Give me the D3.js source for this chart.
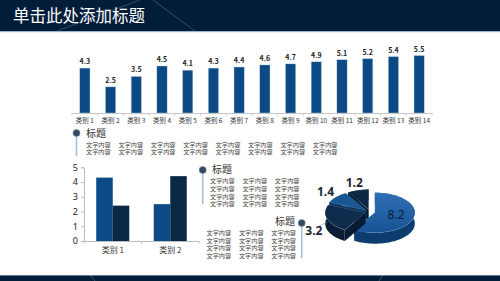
<!doctype html>
<html>
<head>
<meta charset="utf-8">
<title>单击此处添加标题</title>
<script src="https://cdnjs.cloudflare.com/ajax/libs/d3/7.8.5/d3.min.js"></script>
<style>
  body { margin: 0; background: #fff; }
  svg { display: block; font-family: "Noto Sans CJK SC", "Noto Sans", sans-serif; }
</style>
</head>
<body>
<div id="chart"></div>
<script>
// ---- data ----
const title = '单击此处添加标题';
const topCats = ['类别 1','类别 2','类别 3','类别 4','类别 5','类别 6','类别 7',
                 '类别 8','类别 9','类别 10','类别 11','类别 12','类别 13','类别 14'];
const topVals = [4.3, 2.5, 3.5, 4.5, 4.1, 4.3, 4.4, 4.6, 4.7, 4.9, 5.1, 5.2, 5.4, 5.5];

const groupCats = ['类别 1', '类别 2'];
const series1 = [4.3, 2.5];
const series2 = [2.4, 4.4];
const yTicks = [0, 1, 2, 3, 4, 5];

const pieVals = [8.2, 3.2, 1.4, 1.2];

const blockTitle = '标题';
const blockText = '文字内容';

// ---- setup ----
const W = 500, H = 281;
const svg = d3.select('#chart').append('svg').attr('width', W).attr('height', H);

const dark = '#021d3a';
const blue = '#0b4a84';
const navy = '#0a2744';

// header
svg.append('rect').attr('x', 0).attr('y', 0).attr('width', W).attr('height', 31).attr('fill', dark);
svg.append('line').attr('x1', 57).attr('y1', 31).attr('x2', 140).attr('y2', 0)
  .attr('stroke', 'rgba(255,255,255,0.35)').attr('stroke-width', 0.6);
svg.append('line').attr('x1', 153).attr('y1', 0).attr('x2', 195).attr('y2', 31)
  .attr('stroke', 'rgba(255,255,255,0.35)').attr('stroke-width', 0.6);
svg.append('rect').attr('x', 0).attr('y', 31).attr('width', W).attr('height', 1.2).attr('fill', '#9fb3c8');
svg.append('text').attr('x', 13).attr('y', 22).text(title)
  .attr('fill', '#fff').style('font-size', '16.5px');

// footer
svg.append('rect').attr('x', 0).attr('y', 275).attr('width', W).attr('height', 6).attr('fill', dark);
svg.append('rect').attr('x', 0).attr('y', 275).attr('width', W).attr('height', 0.8).attr('fill', '#7e95ad');
svg.append('line').attr('x1', 90).attr('y1', 275).attr('x2', 95).attr('y2', 281)
  .attr('stroke', 'rgba(255,255,255,0.4)').attr('stroke-width', 0.6);
svg.append('line').attr('x1', 383).attr('y1', 275).attr('x2', 379).attr('y2', 281)
  .attr('stroke', 'rgba(255,255,255,0.4)').attr('stroke-width', 0.6);

// ---- top bar chart ----
const x = d3.scaleBand().domain(topCats).range([72, 432]).paddingInner(0.6).paddingOuter(0.3);
const y = d3.scaleLinear().domain([0, 6]).range([113, 50.3]);

const topG = svg.append('g');
topG.selectAll('rect.bar').data(topVals).join('rect')
  .attr('class', 'bar')
  .attr('x', (d, i) => x(topCats[i]))
  .attr('y', d => y(d))
  .attr('width', x.bandwidth())
  .attr('height', d => y(0) - y(d))
  .attr('fill', blue)
  .attr('stroke', '#c9dbee').attr('stroke-width', 0.4);

topG.selectAll('text.val').data(topVals).join('text')
  .attr('class', 'val')
  .attr('x', (d, i) => x(topCats[i]) + x.bandwidth() / 2)
  .attr('y', d => y(d) - 4)
  .attr('text-anchor', 'middle')
  .attr('fill', '#222')
  .style('font-size', '7px').style('font-weight', 'bold')
  .text(d => d.toFixed(1));

const xAxis = topG.append('g').attr('transform', `translate(0,${y(0)})`)
  .call(d3.axisBottom(x).tickSize(0).tickPadding(5));
xAxis.select('.domain').attr('stroke', '#c8c8c8');
xAxis.selectAll('text').attr('fill', '#333').style('font-size', '6.5px')
  .style('font-family', '"Noto Sans CJK SC", sans-serif');
// boundary ticks between categories
const stepT = x.step();
const edges = topCats.map(c => x(c) - stepT * x.paddingInner() / 2).concat([x(topCats[topCats.length - 1]) + x.bandwidth() + stepT * x.paddingInner() / 2]);
topG.selectAll('line.edge').data(edges).join('line')
  .attr('class', 'edge')
  .attr('x1', d => d).attr('x2', d => d)
  .attr('y1', y(0)).attr('y2', y(0) + 3)
  .attr('stroke', '#c8c8c8').attr('stroke-width', 0.8);

// ---- markers + text blocks ----
function marker(cx, cy, y2) {
  svg.append('line').attr('x1', cx).attr('x2', cx).attr('y1', cy).attr('y2', y2)
    .attr('stroke', '#a9bfd4').attr('stroke-width', 1.6);
  svg.append('circle').attr('cx', cx).attr('cy', cy).attr('r', 3.6)
    .attr('fill', '#34495f').attr('stroke', '#8ea3b8').attr('stroke-width', 0.6);
}
// one text per column, rows as tspans
function textBlock(x0, y0, cols, rows) {
  const colG = svg.append('g').selectAll('text').data(d3.range(cols)).join('text')
    .attr('x', c => x0 + c * 32.4)
    .attr('y', y0)
    .attr('fill', '#444')
    .style('font-size', '6.2px');
  colG.selectAll('tspan').data(c => d3.range(rows).map(r => ({ c, r }))).join('tspan')
    .attr('x', d => x0 + d.c * 32.4)
    .attr('y', d => y0 + d.r * 7.65)
    .text(blockText);
}

marker(76.5, 133, 156);
svg.append('text').attr('x', 86).attr('y', 136.5)
  .attr('fill', '#333').style('font-size', '10px').text(blockTitle);
textBlock(86, 146.5, 8, 2);

marker(202.7, 170, 204);
svg.append('text').attr('x', 212).attr('y', 173)
  .attr('fill', '#333').style('font-size', '10px').text(blockTitle);
textBlock(210, 183.2, 3, 4);

marker(301.7, 223, 258);
svg.append('text').attr('x', 295).attr('y', 224.5)
  .attr('text-anchor', 'end')
  .attr('fill', '#333').style('font-size', '10px').text(blockTitle);
textBlock(206.5, 234.9, 3, 4);

// ---- grouped bar chart ----
const x0 = d3.scaleBand().domain(groupCats).range([84, 199]).paddingInner(0.426).paddingOuter(0.213);
const x1 = d3.scaleBand().domain([0, 1]).range([0, x0.bandwidth()]);
const y2 = d3.scaleLinear().domain([0, 5]).range([241, 167.3]);

const gG = svg.append('g');
const groups = gG.selectAll('g.grp').data(groupCats).join('g')
  .attr('class', 'grp')
  .attr('transform', d => `translate(${x0(d)},0)`);
groups.selectAll('rect').data((d, i) => [series1[i], series2[i]]).join('rect')
  .attr('x', (d, j) => x1(j))
  .attr('y', d => y2(d))
  .attr('width', x1.bandwidth())
  .attr('height', d => y2(0) - y2(d))
  .attr('fill', (d, j) => j === 0 ? blue : navy);

const yAx = gG.append('g').attr('transform', 'translate(84,0)')
  .call(d3.axisLeft(y2).tickValues(yTicks).tickSize(3).tickPadding(3).tickFormat(d3.format('d')));
yAx.selectAll('line, path').attr('stroke', '#bbb');
yAx.selectAll('text').attr('fill', '#222').style('font-size', '9px')
  .style('font-family', '"Noto Sans", sans-serif');

const xAx = gG.append('g').attr('transform', `translate(0,${y2(0)})`)
  .call(d3.axisBottom(x0).tickSize(0).tickPadding(6));
xAx.select('.domain').attr('stroke', '#bbb');
xAx.selectAll('text').attr('fill', '#333').style('font-size', '8px')
  .style('font-family', '"Noto Sans CJK SC", sans-serif');
const gEdges = [84].concat(groupCats.map(c => x0(c) + x0.bandwidth() + x0.step() * x0.paddingInner() / 2));
gG.selectAll('line.edge').data(gEdges).join('line')
  .attr('class', 'edge')
  .attr('x1', d => d).attr('x2', d => d)
  .attr('y1', y2(0)).attr('y2', y2(0) + 3)
  .attr('stroke', '#bbb').attr('stroke-width', 0.8);

// ---- 3D exploded pie ----
const pcx = 370, pcy = 212, rx = 40, ry = 20, depth = 11, explode = 5;
const pie = d3.pie().sort(null).value(d => d);
const arcs = pie(pieVals);
const topFill = ['url(#gBig)', '#0f2c4c', '#175892', '#0d2844'];
const sideFill = ['#0d3c6e', '#081c33', '#0c3560', '#071a2f'];

const defs = svg.append('defs');
const gb = defs.append('linearGradient').attr('id', 'gBig').attr('x1', 0).attr('y1', 0).attr('x2', 0).attr('y2', 1);
gb.append('stop').attr('offset', '0%').attr('stop-color', '#2e70b4');
gb.append('stop').attr('offset', '100%').attr('stop-color', '#175394');

function pt(a, ox, oy, dy) {
  return [pcx + ox + rx * Math.sin(a), pcy + oy - ry * Math.cos(a) + (dy || 0)];
}
const line = d3.line();
const pieG = svg.append('g');
const slices = arcs.map((a, i) => {
  const mid = (a.startAngle + a.endAngle) / 2;
  return { a, i, mid, ox: explode * Math.sin(mid), oy: -explode * (ry / rx) * Math.cos(mid) };
});
// back to front
slices.slice().sort((p, q) => (-Math.cos(p.mid)) - (-Math.cos(q.mid))).forEach(s => {
  const { a, i, ox, oy } = s;
  const n = Math.max(4, Math.ceil((a.endAngle - a.startAngle) / 0.05));
  const angs = d3.range(n + 1).map(k => a.startAngle + (a.endAngle - a.startAngle) * k / n);
  const c = [pcx + ox, pcy + oy];
  const cB = [c[0], c[1] + depth];
  const topArc = angs.map(t => pt(t, ox, oy));
  const botArc = angs.map(t => pt(t, ox, oy, depth));
  const g = pieG.append('g');
  // cut faces
  [a.startAngle, a.endAngle].forEach(t => {
    g.append('path').attr('d', line([c, pt(t, ox, oy), pt(t, ox, oy, depth), cB]) + 'Z')
      .attr('fill', sideFill[i]);
  });
  // outer wall
  g.append('path').attr('d', line(topArc.concat(botArc.slice().reverse())) + 'Z')
    .attr('fill', sideFill[i]);
  // top face
  g.append('path').attr('d', line([c].concat(topArc)) + 'Z')
    .attr('fill', topFill[i]).attr('stroke', 'rgba(160,195,230,0.35)').attr('stroke-width', 0.5);
});

// pie labels
slices.forEach(s => {
  const inside = s.i === 0;
  const k = inside ? 0.55 : 1.35;
  let lx = pcx + s.ox + k * rx * Math.sin(s.mid);
  let ly = pcy + s.oy - k * ry * Math.cos(s.mid);
  if (!inside && Math.cos(s.mid) < 0) ly += depth;
  if (!inside && Math.cos(s.mid) < 0) {
    const e = pt(s.mid, s.ox, s.oy, depth * 0.3);
    pieG.append('line').attr('x1', lx + 5).attr('y1', ly - 6).attr('x2', e[0]).attr('y2', e[1])
      .attr('stroke', '#999').attr('stroke-width', 0.6);
  }
  pieG.append('text').attr('x', lx).attr('y', ly)
    .attr('text-anchor', 'middle').attr('dominant-baseline', 'middle')
    .attr('fill', inside ? '#0a1c30' : '#1b2633')
    .style('font-size', '12px').style('font-weight', inside ? 'normal' : 'bold')
    .style('font-family', '"Noto Sans", sans-serif')
    .text(pieVals[s.i].toFixed(1));
});
</script>
</body>
</html>
